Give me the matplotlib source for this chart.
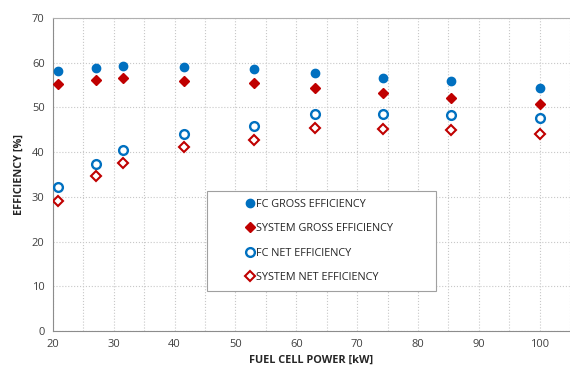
import matplotlib
matplotlib.use("Agg")
import matplotlib.pyplot as plt
from matplotlib.ticker import MultipleLocator

plt.rcParams['font.family'] = ['Open Sans', 'DejaVu Sans']

# fuel cell power [kW]
power = [20.8, 27.0, 31.5, 41.5, 53.0, 63.0, 74.2, 85.4, 100.0]

fc_gross = [58.2, 58.8, 59.3, 59.0, 58.5, 57.7, 56.6, 55.8, 54.4]
sys_gross = [55.3, 56.2, 56.6, 56.0, 55.4, 54.4, 53.2, 52.2, 50.7]
fc_net = [32.1, 37.3, 40.4, 44.1, 45.9, 48.6, 48.6, 48.4, 47.7]
sys_net = [29.1, 34.6, 37.5, 41.1, 42.8, 45.3, 45.2, 44.9, 44.0]

BLUE = '#0070C0'
RED = '#C00000'

fig = plt.figure(figsize=(5.70, 3.72), dpi=100)
ax = fig.add_axes([0.093, 0.110, 0.907, 0.842])

ax.plot(power, fc_gross, 'o', color=BLUE, ms=6, label='FC GROSS EFFICIENCY', zorder=3)
ax.plot(power, sys_gross, 'D', color=RED, ms=5.5, label='SYSTEM GROSS EFFICIENCY', zorder=3)
ax.plot(power, fc_net, 'o', mfc='white', mec=BLUE, mew=1.7, ms=6.3,
        label='FC NET EFFICIENCY', zorder=3)
ax.plot(power, sys_net, 'D', mfc='white', mec=RED, mew=1.5, ms=5,
        label='SYSTEM NET EFFICIENCY', zorder=3)

ax.set_xlim(20, 105)
ax.set_ylim(0, 70)
ax.set_xticks(range(20, 101, 10))
ax.xaxis.set_minor_locator(MultipleLocator(5))
ax.yaxis.set_major_locator(MultipleLocator(10))

ax.grid(which='both', axis='x', color='#c8c8c8', ls=':', lw=0.8)
ax.grid(which='major', axis='y', color='#c8c8c8', ls=':', lw=0.8)
ax.set_axisbelow(True)

ax.spines['right'].set_visible(False)
ax.spines['top'].set_color('#b0b0b0')
ax.spines['left'].set_color('#8c8c8c')
ax.spines['bottom'].set_color('#8c8c8c')
ax.tick_params(which='both', length=0, labelsize=8, colors='#404040', pad=6)

ax.set_xlabel('FUEL CELL POWER [kW]', fontsize=7.8, fontweight='bold', color='#262626', labelpad=3)
ax.set_ylabel('EFFICIENCY [%]', fontsize=7.8, fontweight='bold', color='#262626', labelpad=5)

# legend box spans a fixed width inside the axes, markers set in from the left edge
leg = ax.legend(loc='upper left', bbox_to_anchor=(0.298, 0.131, 0.443, 0.316),
                mode='expand', fontsize=7.8,
                frameon=True, fancybox=False, edgecolor='#a0a0a0', framealpha=1,
                handletextpad=-2.7, labelspacing=1.25, borderpad=0.7,
                handlelength=6.55, borderaxespad=0)
leg.get_frame().set_linewidth(0.8)
for t in leg.get_texts():
    t.set_color('#262626')

fig.savefig('out.png', dpi=100)
